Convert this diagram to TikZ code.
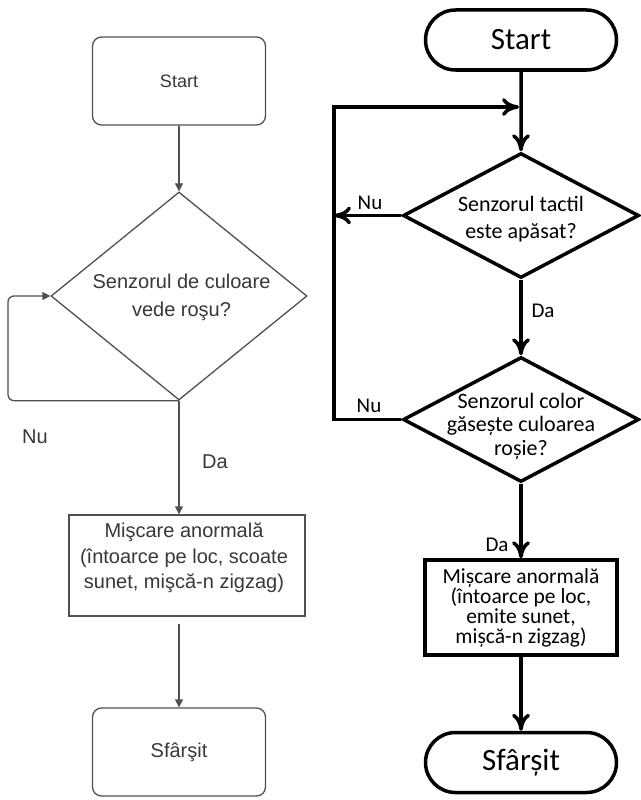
\documentclass[tikz,border=0pt]{standalone}
\usepackage{fontspec}
\newfontfamily\lfont{Liberation Sans}
\newfontfamily\rfont{Carlito}
\usetikzlibrary{arrows.meta,shapes.geometric,shapes.misc}
\definecolor{llinec}{HTML}{505050}
\definecolor{ltextc}{HTML}{383838}
\newcommand\mytightskip{\lineskiplimit=-30pt\relax}
\tikzset{
  lline/.style={draw=llinec, line width=1.3pt},
  larrow/.style={lline, -{Triangle[length=8pt,width=8pt]}},
  lterm/.style={lline, rounded corners=9pt, minimum width=173pt, minimum height=88pt, inner sep=0pt},
  ldia/.style={lline, diamond, minimum width=256pt, minimum height=208pt, inner sep=0pt},
  lbox/.style={lline, minimum width=236pt, minimum height=101pt, inner sep=0pt},
  ltext/.style={text=ltextc, font=\lfont\fontsize{20}{25.5}\selectfont, align=center, inner sep=0pt},
  rline/.style={draw=black, line width=3.5pt},
  rarrow/.style={rline, -{To[length=17pt,width=18pt]}},
  rterm/.style={rline, rounded rectangle, minimum width=191pt, minimum height=60pt, inner sep=0pt, font=\rfont\fontsize{31}{36}\selectfont},
  rdia/.style={rline, diamond, minimum width=236pt, minimum height=125pt, inner sep=0pt},
  rbox/.style={rline, minimum width=192pt, minimum height=95pt, inner sep=0pt},
  rtext/.style={font=\rfont\fontsize{22}{24}\selectfont, align=center, inner sep=0pt},
  rlab/.style={font=\rfont\fontsize{21}{24}\selectfont, inner sep=0pt},
}
\begin{document}
\begin{tikzpicture}[x=1pt,y=-1pt]
\useasboundingbox (0,0) rectangle (640,800);
\fill[white] (0,0) rectangle (640,800);

% ---------- left flowchart ----------
\node[lterm, ltext, font=\lfont\fontsize{18}{22}\selectfont] (ls) at (179,81) {Start};
\node[ldia] (ld) at (179,296) {};
\node[ltext, font=\lfont\fontsize{20}{28}\selectfont] (ldt) at (181.5,297) {Senzorul de culoare\\vede roşu?};
\node[lbox] (lb) at (187,565.5) {};
\node[ltext] (lbt) at (184,558) {Mişcare anormală\\(întoarce pe loc, scoate\\sunet, mişcă-n zigzag)};
\node[lterm, ltext] (le) at (179,752) {Sfârşit};
\coordinate (lc) at (8,350);
\node[ltext] (lnu) at (35,437) {Nu};
\node[ltext] (lda) at (215,462) {Da};

\draw[larrow] (ls) -- (ld);
\draw[larrow, rounded corners=6pt] (ld.south) -| (lc) |- (ld.west);
\draw[larrow] (ld.south) -- (ld.south |- lb.north);
\draw[larrow, shorten <=7pt] (ld.south |- lb.south) -- (le.north);

% ---------- right flowchart ----------
\node[rterm] (rs) at (521,40) {Start};
\node[rdia] (d1) at (521,215.5) {};
\node[rtext, font=\rfont\fontsize{22}{27}\selectfont] (d1t) at (521,219) {Senzorul tactil\\este apăsat?};
\node[rdia] (d2) at (521,419.5) {};
\node[rtext, font=\rfont\fontsize{22}{23.5}\selectfont] (d2t) at (521,426) {Senzorul color\\găsește culoarea\\roșie?};
\node[rbox, rtext, font=\rfont\fontsize{21.5}{20}\selectfont\mytightskip] (rb) at (521,607.5) {Mișcare anormală\\(întoarce pe loc,\\emite sunet,\\mișcă-n zigzag)};
\node[rterm] (re) at (521,762.5) {Sfârșit};
\coordinate (rj) at (521,107);
\coordinate (rl) at (334,107);
\node[rlab] (rn1) at (370,203) {Nu};
\node[rlab] (rn2) at (369,406) {Nu};
\node[rlab] (rd1) at (543,311) {Da};
\node[rlab] (rd2) at (497,545) {Da};

\draw[rarrow] (rs) -- (d1);
\draw[rarrow] (d1.west) -- (d1.west -| rl);
\draw[rarrow, shorten >=2pt] (d2.west) -- (d2.west -| rl) -- (rl) -- (rj);
\draw[rarrow] (d1) -- (d2);
\draw[rarrow] (d2) -- (rb);
\draw[rarrow] (rb) -- (re);
\end{tikzpicture}
\end{document}
